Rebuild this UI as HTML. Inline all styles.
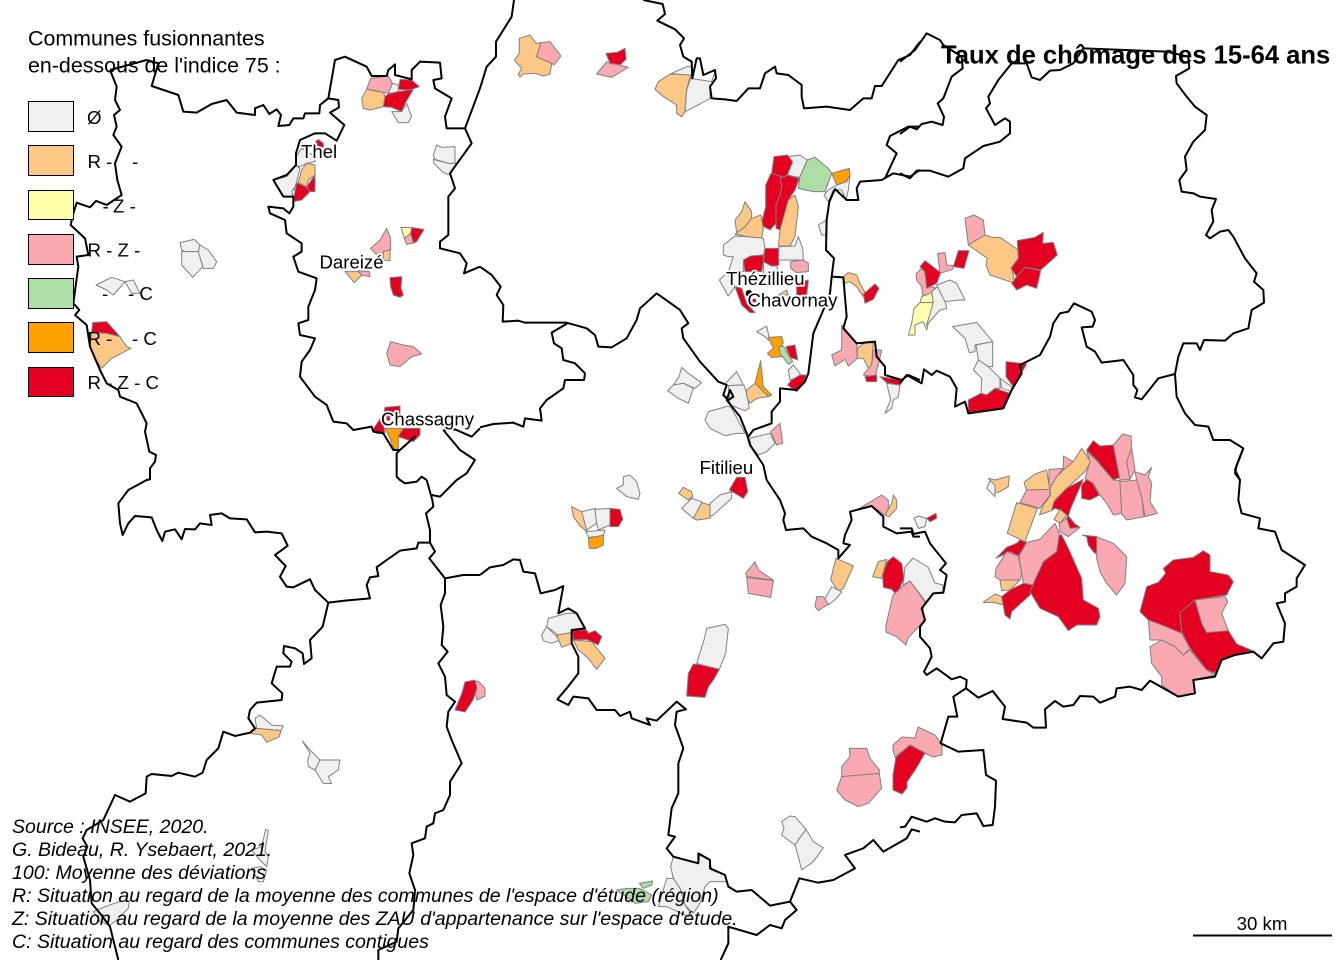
<!DOCTYPE html>
<html lang="fr">
<head>
<meta charset="utf-8">
<title>Taux de chômage des 15-64 ans</title>
<style>
html,body{margin:0;padding:0;background:#fff}
svg{display:block}
text{font-family:"Liberation Sans",sans-serif;fill:#000}
polygon{stroke:#808080;stroke-width:1px;vector-effect:non-scaling-stroke;stroke-linejoin:round}
polyline{fill:none;stroke:#000;stroke-width:2px;vector-effect:non-scaling-stroke;stroke-linejoin:round}
.n{fill:#f0f0f0}.r{fill:#fdc785}.y{fill:#ffffab}.p{fill:#fba9b0}.g{fill:#addea6}.o{fill:#ffa100}.x{fill:#e30020}
.lab{font-size:18.6px;paint-order:stroke;stroke:#fff;stroke-width:3.5px;stroke-linejoin:round}
.leg{font-size:18.67px}
.src{font-size:19.55px;font-style:italic}
.box{stroke:#000;stroke-width:1px}
</style>
</head>
<body>
<svg xmlns="http://www.w3.org/2000/svg" width="1344" height="960" viewBox="0 0 1344 960">
<rect width="1344" height="960" fill="#fff"/>
<g>
<g transform="scale(.33333)">
<polygon class="p" points="1112,235 1165,228 1177,250 1167,280 1150,277 1100,267"/>
<polygon class="r" points="1100,268 1150,277 1155,290 1150,320 1110,330 1090,325 1085,295"/>
<polygon class="n" points="1178,250 1195,255 1195,275 1170,280 1165,278"/>
<polygon class="x" points="1200,238 1235,240 1258,260 1230,270 1195,268"/>
<polygon class="x" points="1165,282 1195,275 1240,268 1215,310 1205,335 1175,322 1150,320 1155,290"/>
<polygon class="n" points="1205,335 1220,310 1235,350 1225,368 1195,368 1175,335"/>
<polygon class="x" points="947,425 955,418 970,430 970,442 955,440"/>
<polygon class="n" points="888,470 905,445 945,470 945,485 920,490 900,500 888,497"/>
<polygon class="r" points="920,490 945,495 945,525 925,540 920,560 895,548 905,510"/>
<polygon class="n" points="820,540 860,530 888,497 900,505 890,545 875,590 850,590"/>
<polygon class="n" points="880,565 895,590 880,590 875,575"/>
<polygon class="x" points="890,548 920,562 930,575 905,600 880,605 885,575"/>
<polygon class="x" points="920,560 945,525 945,575 930,575"/>
<polygon class="n" points="1310,435 1325,442 1365,440 1365,490 1345,490 1305,478 1300,465"/>
<polygon class="n" points="1300,478 1345,490 1370,490 1350,525 1330,518 1302,490"/>
<polygon class="n" points="540,728 582,718 600,735 595,755 555,755 545,750"/>
<polygon class="n" points="600,735 625,750 650,785 640,805 610,805 595,755"/>
<polygon class="n" points="545,755 595,755 608,800 578,832 545,795"/>
<polygon class="n" points="288,855 335,832 375,845 340,885 320,870"/>
<polygon class="n" points="375,845 400,840 420,880 395,880"/>
<polygon class="x" points="278,968 320,965 360,1010 320,1000 275,998"/>
<polygon class="r" points="275,998 320,1000 360,1010 380,1040 393,1045 335,1075 305,1105 285,1075 270,1040"/>
<polygon class="p" points="1112,745 1140,720 1160,685 1172,715 1172,750 1150,755 1145,770 1125,760"/>
<polygon class="r" points="1150,755 1170,750 1170,782 1150,780"/>
<polygon class="r" points="1035,815 1075,815 1085,825 1063,848"/>
<polygon class="p" points="1075,812 1108,815 1110,830 1085,825"/>
<polygon class="y" points="1203,682 1235,683 1232,700 1213,715"/>
<polygon class="p" points="1213,715 1232,700 1245,728 1220,733"/>
<polygon class="x" points="1235,683 1272,688 1250,725 1240,728 1232,700"/>
<polygon class="x" points="1170,833 1205,830 1203,865 1210,885 1200,892 1180,885 1172,860"/>
<polygon class="p" points="1172,1025 1210,1035 1240,1040 1265,1062 1235,1070 1200,1100 1170,1095 1160,1060"/>
<polygon class="x" points="1155,1222 1200,1218 1200,1250 1150,1250"/>
<polygon class="x" points="1118,1290 1145,1250 1155,1298 1130,1300"/>
<polygon class="o" points="1155,1285 1210,1285 1195,1310 1195,1350 1180,1345 1170,1315"/>
<polygon class="x" points="1210,1285 1260,1285 1260,1305 1240,1325 1195,1310"/>
</g>
<g transform="translate(480,0) scale(.33333)">
<polygon class="r" points="118,115 150,105 168,130 183,128 170,170 215,190 210,222 190,228 165,220 130,222 120,232 115,222 125,205 103,180 118,160"/>
<polygon class="p" points="183,128 210,125 243,168 222,195 215,190 170,170"/>
<polygon class="x" points="378,160 412,157 435,145 438,178 420,195 390,190"/>
<polygon class="p" points="350,222 380,185 390,190 420,195 445,202 395,232"/>
<polygon class="n" points="575,220 620,200 635,200 635,230"/>
<polygon class="r" points="525,268 535,245 570,222 632,225 620,270 615,335 605,350 590,340 590,315 550,290"/>
<polygon class="n" points="632,235 695,245 705,215 710,235 690,260 690,295 660,312 615,335 620,270"/>
<polygon class="n" points="605,1102 625,1120 665,1148 645,1165 610,1150 580,1155 597,1130"/>
<polygon class="n" points="563,1172 580,1155 610,1150 640,1165 625,1210 595,1195"/>
<polygon class="n" points="737,1150 770,1115 790,1155 740,1157"/>
<polygon class="n" points="745,1157 792,1155 800,1180 808,1225 795,1232 750,1215"/>
<polygon class="n" points="675,1260 685,1235 745,1218 755,1225 795,1300 770,1300 735,1307 690,1285"/>
<polygon class="n" points="808,1315 870,1300 885,1330 860,1355 835,1365 815,1340"/>
<polygon class="p" points="872,1295 900,1270 908,1330 890,1335"/>
<polygon class="p" points="1085,975 1130,1030 1132,1075 1105,1098 1095,1078 1065,1098 1055,1065 1085,1050"/>
<polygon class="r" points="1132,1045 1158,1025 1180,1030 1175,1095 1165,1105 1150,1075 1132,1075"/>
<polygon class="p" points="1180,1050 1205,1050 1195,1095 1185,1130 1150,1125 1165,1105 1175,1095"/>
<polygon class="x" points="1155,1130 1190,1125 1190,1145 1160,1145"/>
<polygon class="x" points="1200,1130 1265,1140 1260,1158 1220,1148"/>
<polygon class="n" points="1220,1150 1260,1155 1255,1190 1240,1200 1235,1225 1215,1240 1232,1200"/>
</g>
<g transform="translate(700,140) scale(.33333)">
<polygon class="n" points="265,50 300,45 322,60 300,110 295,112 262,105"/>
<polygon class="x" points="222,50 262,45 278,65 262,105 250,112 215,100"/>
<polygon class="g" points="322,60 345,52 385,85 395,100 375,155 340,155 295,145 300,110"/>
<polygon class="o" points="395,100 448,85 450,105 438,125 410,135"/>
<polygon class="n" points="385,150 410,135 440,125 450,105 445,150 438,180 425,150 400,150 385,185 372,165"/>
<polygon class="x" points="197,135 213,100 240,108 245,140 240,165 228,195 228,250 210,270 183,255 197,200"/>
<polygon class="x" points="240,108 250,112 262,105 298,115 285,150 265,180 240,270 228,265 228,195 240,165 245,140"/>
<polygon class="r" points="285,165 295,200 285,290 270,318 235,318 240,270 265,180"/>
<polygon class="r" points="105,240 125,215 135,185 155,215 155,235 135,260 110,278"/>
<polygon class="r" points="155,235 183,225 190,265 185,295 140,290 105,282 135,260"/>
<polygon class="n" points="105,288 140,290 190,295 195,325 190,345 150,350 130,365 130,395 85,395 100,350 85,350 70,345 70,315"/>
<polygon class="x" points="195,325 235,325 237,375 215,378 190,365"/>
<polygon class="x" points="130,360 152,348 190,345 190,365 185,395 135,395"/>
<polygon class="n" points="237,320 285,318 295,290 308,325 310,360 270,360 235,360"/>
<polygon class="p" points="272,365 310,360 325,370 325,395 290,398 272,385"/>
<polygon class="n" points="190,365 215,378 232,378 232,400 190,400"/>
<polygon class="x" points="105,440 125,445 140,490 165,518 150,518 125,495"/>
<polygon class="x" points="290,430 325,420 320,465 290,465"/>
<polygon class="r" points="235,465 260,450 265,465"/>
<polygon class="n" points="58,420 85,395 90,420 105,440 85,468"/>
<polygon class="n" points="355,255 380,240 377,285 365,285"/>
<polygon class="r" points="430,410 445,398 470,405 480,430 497,460 490,470 470,440 450,425 435,430"/>
<polygon class="x" points="490,462 525,432 537,445 520,478 495,490"/>
<polygon class="n" points="170,575 200,558 207,590 207,602 195,590"/>
<polygon class="o" points="205,592 245,590 250,608 240,625 250,650 215,652 202,640 220,625"/>
<polygon class="g" points="237,620 250,618 278,665 265,673 240,640"/>
<polygon class="x" points="258,620 285,615 293,660 270,652"/>
<polygon class="n" points="265,690 280,675 300,700 300,710 270,720"/>
<polygon class="x" points="263,735 275,720 300,705 317,705 315,725 290,755"/>
<polygon class="o" points="182,662 190,740 215,765 205,770 165,730"/>
<polygon class="r" points="140,750 165,730 205,770 170,775 150,790 140,770"/>
<circle cx="147" cy="460" r="10" fill="#000"/>
</g>
<g transform="translate(900,0) scale(.33333)">
<polygon class="p" points="195,655 222,645 250,660 255,705 205,735"/>
<polygon class="r" points="205,735 255,705 275,712 300,712 355,750 355,775 335,805 345,850 270,825 258,795 262,775"/>
<polygon class="x" points="352,722 405,712 430,697 428,730 460,727 472,765 422,810 375,802 350,830 333,805 355,775"/>
<polygon class="x" points="350,830 375,802 422,812 410,865 380,855 350,870 335,850"/>
<polygon class="x" points="160,800 175,752 207,752 192,805"/>
<polygon class="p" points="113,760 135,758 140,795 160,797 158,808 120,820"/>
<polygon class="p" points="48,822 70,800 82,860 105,862 95,885 68,885 65,860 50,840"/>
<polygon class="x" points="60,800 75,782 122,818 110,850 80,865 75,815"/>
<polygon class="y" points="65,890 95,878 100,908 60,908"/>
<polygon class="y" points="42,925 60,908 100,908 80,990 70,965 45,975 45,1005 25,1005 35,970"/>
<polygon class="n" points="95,875 115,858 135,900 140,925 120,930 80,975 100,908"/>
<polygon class="n" points="110,855 150,840 170,850 195,900 180,900 135,905"/>
<polygon class="n" points="158,980 230,967 278,1025 225,1035 225,1055 208,1058 195,1015"/>
<polygon class="n" points="228,1035 278,1025 278,1100 265,1100 235,1080"/>
<polygon class="n" points="235,1080 265,1100 300,1135 300,1165 285,1165 260,1185 243,1180 245,1135 220,1110"/>
<polygon class="n" points="300,1135 335,1160 335,1175 305,1165"/>
<polygon class="x" points="318,1085 380,1092 340,1160 318,1130"/>
<polygon class="x" points="205,1200 243,1180 260,1185 285,1165 330,1180 310,1225 205,1240"/>
</g>
<g transform="translate(900,420) scale(.33333)">
<polygon class="r" points="265,175 285,180 328,168 325,200 300,215 285,220 283,195"/>
<polygon class="n" points="260,205 270,182 285,195 285,230"/>
<polygon class="n" points="42,295 55,288 80,295 75,320 55,325"/>
<polygon class="x" points="80,295 108,280 110,295 90,305"/>
<polygon class="r" points="372,187 405,162 440,150 447,195 450,208 380,210"/>
<polygon class="p" points="447,148 490,145 470,170 455,195 447,195"/>
<polygon class="p" points="490,108 520,125 490,150"/>
<polygon class="r" points="520,125 545,85 572,125 555,155 500,205 465,240 458,270 418,285 430,255 452,225 450,205 470,170 490,150"/>
<polygon class="p" points="380,210 450,208 450,225 420,265 360,248"/>
<polygon class="r" points="350,248 412,265 375,365 322,340"/>
<polygon class="x" points="462,245 500,205 550,178 510,270 505,290 480,270 465,265 455,270"/>
<polygon class="r" points="480,268 500,285 480,310 462,298"/>
<polygon class="x" points="505,288 525,312 540,322 510,325 497,295"/>
<polygon class="p" points="478,310 500,295 510,325 540,322 505,350 480,335"/>
<polygon class="x" points="560,178 578,190 598,225 570,240 545,235 545,195"/>
<polygon class="p" points="560,93 590,122 610,145 640,180 660,182 665,280 640,285 620,250 600,225 580,190 555,175 570,125"/>
<polygon class="x" points="560,90 580,62 600,78 640,75 665,170 640,180 610,145 590,120"/>
<polygon class="p" points="640,75 668,42 693,48 695,85 680,125 690,178 660,180"/>
<polygon class="p" points="695,85 705,150 690,178 680,125"/>
<polygon class="p" points="660,185 710,180 725,230 732,290 680,300 665,282"/>
<polygon class="p" points="705,155 735,165 755,142 745,170 755,190 750,245 772,280 735,290 725,230 710,180"/>
<polygon class="x" points="288,415 320,382 350,370 360,360 380,367 355,408 330,395"/>
<polygon class="p" points="288,445 320,395 355,408 365,460 360,480 300,480 285,470"/>
<polygon class="p" points="357,408 380,367 420,358 465,310 478,340 470,395 430,425 405,480 400,495 370,490 365,460"/>
<polygon class="r" points="300,480 360,480 330,510 305,512"/>
<polygon class="r" points="250,547 285,522 305,530 310,555 285,548"/>
<polygon class="x" points="305,530 330,510 370,490 400,495 390,525 335,575 330,597 315,585"/>
<polygon class="x" points="485,345 505,385 545,475 550,540 595,565 600,590 590,615 530,615 505,632 475,590 420,565 390,515 405,480 430,425 470,395 478,345"/>
<polygon class="x" points="547,345 590,350 600,412 580,395 565,375 560,350"/>
<polygon class="p" points="590,350 640,370 680,410 675,490 650,525 620,490 600,455 590,415"/>
<polygon class="x" points="790,445 820,420 880,412 910,392 930,405 930,455 985,465 1000,485 980,525 885,540 840,580 845,640 790,617 745,600 720,575 740,500 775,487 797,460"/>
<polygon class="x" points="885,540 905,600 920,635 985,632 1010,672 1058,692 1005,705 965,720 945,760 920,750 870,685 845,635 840,578"/>
<polygon class="p" points="885,540 975,530 983,545 965,580 985,632 920,638 905,610"/>
<polygon class="p" points="745,600 790,617 845,640 870,685 850,705 825,680 785,660 750,660"/>
<polygon class="p" points="750,680 785,660 825,680 850,705 870,690 920,750 945,765 880,780 885,820 835,830 785,795 785,770 755,730"/>
</g>
<g transform="translate(480,480) scale(.33333)">
<polygon class="r" points="596,40 610,22 635,35 638,50 625,60"/>
<polygon class="n" points="605,85 635,55 665,65 660,95 640,115"/>
<polygon class="r" points="665,68 690,75 690,115 650,120 640,115"/>
<polygon class="n" points="690,70 720,45 755,35 755,55 700,105 690,110"/>
<polygon class="x" points="748,30 770,-8 795,-8 803,35 790,55"/>
<polygon class="n" points="410,25 430,15 430,-10 450,-15 470,5 480,40 475,58 440,50"/>
<polygon class="r" points="275,80 305,95 322,125 320,155 298,135 280,110"/>
<polygon class="n" points="305,95 345,85 350,130 320,150"/>
<polygon class="n" points="345,88 390,85 390,135 355,150 350,130"/>
<polygon class="x" points="390,85 420,88 428,118 415,140 390,140"/>
<polygon class="n" points="318,155 375,150 370,168 325,172"/>
<polygon class="o" points="325,175 370,165 370,195 350,205 328,205"/>
<polygon class="p" points="797,280 825,245 835,270 880,300 800,290"/>
<polygon class="p" points="800,292 880,302 872,352 805,340"/>
<polygon class="r" points="1068,235 1120,258 1090,325 1075,333 1052,300 1060,265"/>
<polygon class="n" points="1030,365 1055,320 1085,335 1070,355 1045,375"/>
<polygon class="p" points="1010,350 1030,350 1045,372 1015,392 1005,380"/>
<polygon class="r" points="1178,290 1195,245 1220,238 1205,295"/>
<polygon class="x" points="1208,285 1222,245 1240,230 1265,250 1272,295 1250,345 1235,328 1210,322"/>
<polygon class="p" points="1130,90 1205,45 1225,60 1225,100 1215,105 1175,78"/>
<polygon class="r" points="1215,105 1235,70 1240,45 1250,60 1250,85 1228,110"/>
<polygon class="n" points="200,440 205,415 260,400 290,400 315,445 280,450 275,458 235,465"/>
<polygon class="n" points="185,465 200,440 240,480 215,490 190,482"/>
<polygon class="r" points="230,465 275,458 275,490 245,502"/>
<polygon class="x" points="278,450 320,450 325,460 345,452 365,470 355,495 320,478 280,480"/>
<polygon class="r" points="280,480 335,485 375,535 350,568 325,535 295,510"/>
<polygon class="n" points="680,445 735,433 745,445 737,520 718,568 665,555 650,550 672,480"/>
<polygon class="x" points="640,552 665,555 718,568 700,600 685,620 675,652 620,648 625,580"/>
<polygon class="p" points="1108,805 1160,805 1170,835 1198,870 1198,880 1085,890 1085,860 1110,830"/>
<polygon class="p" points="1085,890 1198,880 1205,925 1165,970 1135,980 1095,960 1070,930"/>
<polygon class="n" points="905,1025 930,1008 945,1010 978,1048 945,1095 905,1065 912,1045"/>
<polygon class="n" points="945,1095 978,1048 1000,1085 1030,1103 1000,1145 965,1170 955,1130"/>
<polygon class="n" points="572,1160 580,1130 655,1150 660,1125 690,1140 695,1170 735,1185 740,1205 690,1205 675,1220 660,1270 640,1300 615,1275 600,1225 580,1195"/>
<polygon class="n" points="535,1280 560,1195 580,1195 600,1225 615,1275 635,1305 625,1310 560,1280"/>
<polygon class="g" points="410,1230 440,1225 478,1225 515,1245 505,1265 465,1270"/>
<polygon class="g" points="478,1210 518,1203 515,1215 490,1225"/>
</g>
<g>
<polygon class="n" points="903,585 905,567 913,558 928,567 935,583 943,585 943,593 933,593 926,602 910,581"/>
<polygon class="p" points="893,595 904,585 910,581 925,602 923,610 925,620 908,638 906,645 897,637 886,632 886,625"/>
<polygon class="p" points="473,682 478,681 485,688 485,696 481,698 477,700"/>
<polygon class="x" points="455,710 462,693 465,682 475,680 477,688 473,700 465,712"/>
<polygon class="p" points="893,745 902,737 915,738 918,727 935,735 942,745 942,755 933,757 925,753 910,745 895,757 893,750"/>
<polygon class="x" points="896,757 910,745 925,753 917,767 907,782 907,788 902,794 893,790 893,775"/>
</g>
<g transform="translate(0,480) scale(.33333)">
<polygon class="n" points="765,715 780,705 815,735 850,738 843,752 770,745"/>
<polygon class="r" points="750,760 770,745 843,752 838,770 800,787 785,765"/>
<polygon class="n" points="907,783 930,810 960,840 945,870 925,860 923,840 930,820"/>
<polygon class="n" points="960,840 1020,840 1015,870 985,890 995,910 970,910 945,870"/>
<polygon class="n" points="797,1048 805,1052 795,1115 805,1130 800,1160 780,1140 755,1110 785,1100"/>
<polygon class="n" points="755,1165 780,1160 800,1170 790,1205 775,1205"/>
<polygon class="n" points="280,1295 320,1278 360,1265 388,1262 385,1285 345,1325 330,1335 300,1325"/>
</g>
</g>
<g>
<g transform="scale(.33333)">
<polyline points="330,210 350,260 345,300 360,330 342,345 350,380 340,405 365,440 345,490 352,540 365,585 320,615 288,603 270,622 230,608 220,640 212,675 255,715 265,765 230,770 235,800 228,850 220,910 238,930 225,945 260,975 270,1040 300,1110 320,1150 355,1170 360,1190 410,1210 440,1270 435,1295 448,1355 468,1365 465,1385 450,1405 450,1440"/>
<polyline points="330,210 440,180 475,190 455,258 535,285 550,335 590,338 635,312 680,300 710,338 765,345 765,325 790,315 808,342 830,328 843,345 835,378 868,375 880,355 910,355 915,340 958,340 960,315 985,295 1015,300 1017,322 990,338 1033,375 1010,422 975,400 945,400 900,420 888,460 888,495 860,525 820,540 850,590 880,590 880,620 868,640 850,625 805,620 810,640 855,660 860,700 905,730 905,755 880,770 895,815 950,835 945,870 925,920 925,960 895,970 900,1005 945,1015 930,1050 905,1085 900,1130 945,1190 980,1215 1000,1265 1040,1270 1060,1290 1115,1280 1120,1295 1150,1300 1180,1350 1200,1350 1245,1310 1205,1345 1190,1360 1190,1430 1200,1440 1215,1450 1250,1445 1265,1430 1280,1440"/>
<polyline points="985,295 1005,180 1035,170 1100,200 1115,228 1160,228 1165,210 1185,193 1185,225 1235,238 1235,210 1260,185 1320,188 1325,235 1300,240 1305,265 1355,295 1335,350 1340,385 1395,385 1415,430 1350,520 1365,565 1345,590 1345,705 1320,725 1320,745 1380,760 1400,790 1392,820 1440,800"/>
<polyline points="1395,385 1440,265"/>
<polyline points="1330,1290 1380,1350 1425,1380 1400,1420 1370,1440 1320,1490 1295,1485"/>
<polyline points="1330,1290 1365,1288 1415,1310 1440,1285"/>
</g>
<g transform="translate(480,0) scale(.33333)">
<polyline points="0,265 20,200 48,170 48,125 95,50 102,0"/>
<polyline points="0,800 35,825 62,860 50,885 70,915 68,965 115,962 135,968 260,968 320,985 345,1005 355,1040 395,1042 440,1015 470,960 480,925 530,880 600,930 625,970 605,985 610,1015 660,1085 715,1145 740,1155 730,1185 745,1200 760,1190 750,1170 740,1200 780,1250 800,1300 810,1335 850,1395 860,1440"/>
<polyline points="262,970 215,998 222,1030 245,1045 250,1080 285,1090 315,1120 312,1140 255,1140 250,1165 200,1200 180,1225 185,1262 135,1255 130,1280 100,1268 40,1272 0,1282"/>
<polyline points="490,0 548,12 555,42 532,62 585,88 612,115 600,135 610,170 635,185 637,235 650,175 660,175 670,225 705,210 708,235 690,260 695,295 735,298 770,303 805,265 840,265 855,220 885,200 890,220 925,225 965,255 965,290 972,325 1040,320 1110,330 1150,295 1175,295 1185,258 1205,258 1255,180 1290,165 1320,125"/>
<polyline points="1320,380 1285,380 1230,408 1220,435 1250,460 1215,535"/>
<polyline points="1320,510 1290,530 1240,520 1205,540 1140,545 1130,565 1135,600 1100,600 1065,567 1048,605 1040,660 1038,750 1062,775 1055,830 1090,832 1100,950 1090,985 1130,1030 1185,1025 1190,1070 1215,1100 1215,1125 1265,1140 1285,1125 1320,1140"/>
<polyline points="1055,830 1050,880 1030,930 1000,1000 985,1120 975,1145 950,1170 900,1165 900,1205 875,1235 875,1270 820,1290 805,1310"/>
</g>
<g transform="translate(900,0) scale(.33333)">
<polyline points="0,185 45,150 80,100 120,120 130,135 185,170 188,205 155,230 130,295 113,310 132,350 128,375 95,365 65,372 50,388 30,380 0,402"/>
<polyline points="0,1150 20,1125 65,1150 72,1108 95,1125 110,1112 150,1130 170,1165 165,1220 195,1205 205,1240 310,1225 335,1170 365,1120 360,1095 420,1065 450,1010 460,970 480,940 505,935 522,910 575,935 585,960 578,980 545,982 560,1040 585,1055 605,1088 670,1080 700,1125 700,1155 712,1170 705,1192 725,1198 775,1135 825,1122 835,1070 850,1030 890,1030 900,1050 912,1020 975,1022 1000,1000 1045,985 1055,930 1092,908 1090,870 1062,845 1070,820 1035,775 1000,710 985,690 960,695 930,715 918,705 940,665 935,630 948,597 900,590 880,580 845,575 838,540 860,510 855,470 880,425 915,390 920,345 885,320 860,290 830,250 828,228 868,205 865,170 800,155 550,145 520,190 480,210 450,212 420,240 395,232 380,190 335,190 295,240 265,290 270,310 258,325 285,375 315,355 330,365 330,400 300,425 250,438 195,475 190,505 145,530 90,512 50,512 30,535 0,520"/>
<polyline points="825,1122 830,1190 855,1240 885,1275 925,1280 940,1320 990,1320 1030,1345 1010,1395 1005,1420 1020,1440"/>
</g>
<g transform="translate(900,420) scale(.33333)">
<polyline points="1030,85 1005,150 1020,180 1015,240 1025,280 1080,295 1075,325 1125,335 1145,390 1215,435 1190,475 1190,500 1155,520 1155,545 1130,550 1155,610 1150,665 1120,670 1085,715 1060,695 1005,705 965,720 945,770 880,780 885,820 835,830 750,782 725,810 690,800 650,805 645,830 600,848 580,830 540,828 520,855 490,860 465,843 435,868 438,923 400,923 380,908 308,897 315,860 278,813 235,833 198,805 200,780 180,770 155,778 110,745 80,765 72,755 95,710 90,685 60,650 60,620 75,600 65,565 100,520 130,518 140,465 120,450 138,430 90,370 75,335 40,342 35,325 0,325"/>
<polyline points="198,805 160,830 172,890 145,890 122,970 175,995 250,990 258,1065 288,1082 285,1160 278,1215 250,1218 230,1180 185,1185 165,1207 135,1205 105,1195 80,1205 35,1190 15,1220 0,1222"/>
</g>
<g transform="translate(480,480) scale(.33333)">
<polyline points="0,285 30,262 70,255 100,238 120,240 130,275 165,280 182,340 225,330 250,318 235,400 265,385 290,400 315,445 275,450 275,490 295,530 295,580 260,625 232,658 265,675 280,650 325,655 350,690 405,690 420,708 450,695 455,715 510,735 500,715 530,722 590,665 618,688 590,695 585,735 610,805 595,850 595,940 575,985 565,1065 585,1070 560,1105 580,1130 655,1150 655,1120 690,1140 690,1165 735,1185 745,1220 770,1235 815,1230 870,1277 930,1265 950,1290 915,1320 905,1345 870,1335 830,1365 745,1340 745,1390 722,1440"/>
<polyline points="930,1265 958,1195 1015,1208 1060,1200 1125,1165 1095,1125 1150,1105 1180,1080 1210,1115 1280,1075 1295,1048 1320,1055"/>
<polyline points="860,0 900,60 915,100 910,120 918,150 970,145 995,170 1040,190 1075,210 1075,235 1110,195 1090,190 1095,165 1115,120 1110,95 1175,78 1210,110 1210,140 1250,160 1295,155 1300,170 1320,170"/>
</g>
<g transform="translate(0,480) scale(.33333)">
<polyline points="450,-2 440,0 385,30 355,70 360,130 368,165 385,130 405,108 455,112 470,150 487,183 495,155 525,148 545,178 555,147 585,148 600,130 635,135 630,105 665,100 690,115 740,118 765,157 800,155 845,160 863,197 825,225 857,258 840,290 860,320 880,322 930,298 945,330 985,368 1035,362 1110,355 1100,315 1110,292 1135,288 1130,262 1160,240 1200,212 1250,205 1255,188 1290,188"/>
<polyline points="985,368 968,440 930,480 935,535 912,552 908,520 885,505 852,498 850,520 875,545 870,560 830,560 815,610 847,640 845,660 770,668 750,690 745,715 765,745 750,758 705,768 670,755 655,805 620,840 608,878 585,890 535,878 515,888 455,882 440,890 437,940 390,965 345,945 310,1020 260,1050 248,1075 262,1100 250,1130 270,1200 275,1270 300,1300 330,1340 355,1440"/>
<polyline points="1280,0 1297,60 1300,80 1278,100 1290,150 1290,188 1305,215 1288,235 1335,295 1390,285 1440,285"/>
<polyline points="1335,295 1335,340 1322,375 1330,440 1325,495 1343,515 1315,550 1335,590 1340,645 1365,665 1345,695 1340,740 1355,780 1385,850 1350,905 1350,945 1330,990 1305,1000 1300,1030 1280,1040 1275,1075 1235,1090 1240,1125 1228,1180 1245,1230 1240,1290 1195,1345 1190,1385 1135,1410 1135,1440"/>
</g>
</g>
<g>
<text class="lab" x="301" y="158">Thel</text>
<text class="lab" x="319.5" y="268.5">Dareizé</text>
<text class="lab" x="381" y="425.7">Chassagny</text>
<text class="lab" x="726" y="285">Thézillieu</text>
<text class="lab" x="747.5" y="306.7">Chavornay</text>
<text class="lab" x="699.5" y="474">Fitilieu</text>
<circle cx="388.3" cy="418.8" r="1.8" fill="#e30020"/>
<circle cx="754.3" cy="300.5" r="1.8" fill="#e30020"/>
</g>
<g>
<text x="28" y="45.5" font-size="21.4">Communes fusionnantes</text>
<text x="28" y="72.7" font-size="21.4">en-dessous de l'indice 75 :</text>
<rect class="box n" x="28.5" y="101.5" width="45" height="30"/>
<rect class="box r" x="28.5" y="145.5" width="45" height="30"/>
<rect class="box y" x="28.5" y="190.5" width="45" height="29"/>
<rect class="box p" x="28.5" y="234.5" width="45" height="30"/>
<rect class="box g" x="28.5" y="278.5" width="45" height="30"/>
<rect class="box o" x="28.5" y="322.5" width="45" height="30"/>
<rect class="box x" x="28.5" y="367.5" width="45" height="29"/>
<text class="leg" x="87" y="124">Ø</text>
<text class="leg" y="168"><tspan x="87.5">R -</tspan><tspan x="132">-</tspan></text>
<text class="leg" y="212.7"><tspan x="102.5">-</tspan><tspan x="113">Z -</tspan></text>
<text class="leg" x="87.5" y="256.7">R - Z -</text>
<text class="leg" y="300"><tspan x="102">-</tspan><tspan x="128">- C</tspan></text>
<text class="leg" y="345"><tspan x="87.5">R -</tspan><tspan x="132">- C</tspan></text>
<text class="leg" x="87.5" y="389">R - Z - C</text>
</g>
<text x="941" y="63.5" font-size="25.6" font-weight="bold">Taux de chômage des 15-64 ans</text>
<g>
<text class="src" x="12" y="833">Source : INSEE, 2020.</text>
<text class="src" x="12" y="856">G. Bideau, R. Ysebaert, 2021.</text>
<text class="src" x="12" y="879">100: Moyenne des déviations</text>
<text class="src" x="12" y="902">R: Situation au regard de la moyenne des communes de l'espace d'étude (région)</text>
<text class="src" x="12" y="925">Z: Situation au regard de la moyenne des ZAU d'appartenance sur l'espace d'étude.</text>
<text class="src" x="12" y="948">C: Situation au regard des communes contigues</text>
</g>
<g>
<text x="1262" y="930" font-size="18.67" text-anchor="middle">30 km</text>
<line x1="1193" y1="935.5" x2="1332" y2="935.5" stroke="#000" stroke-width="2"/>
</g>
</svg>
</body>
</html>
